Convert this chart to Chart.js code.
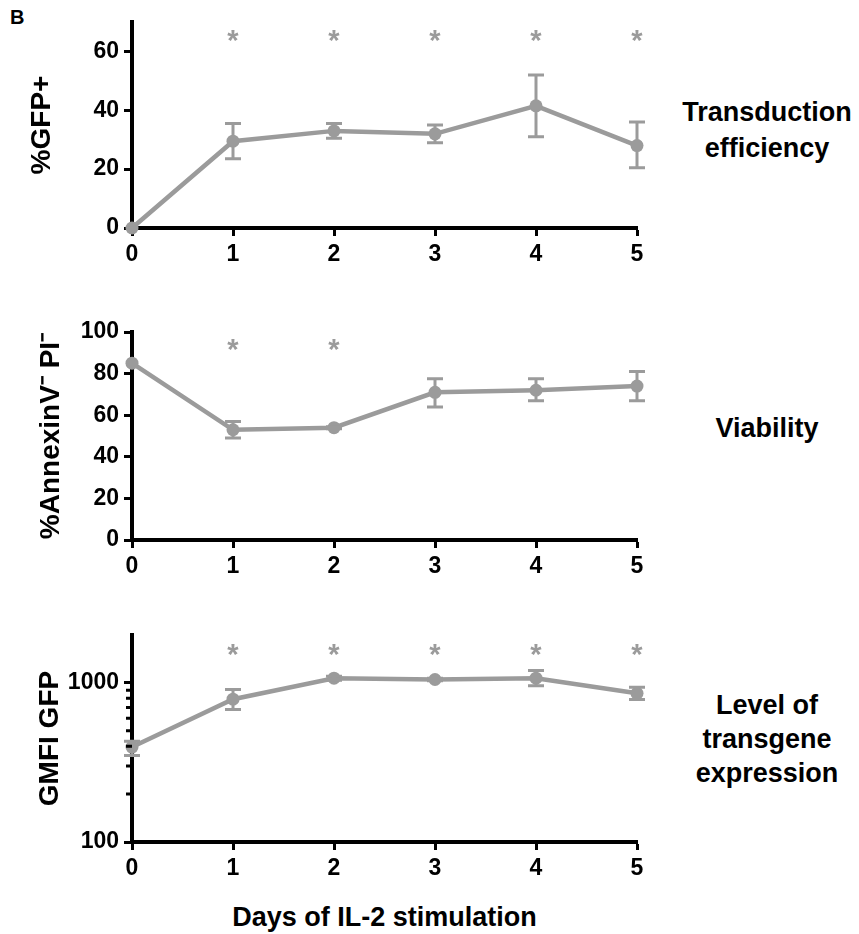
<!DOCTYPE html>
<html>
<head>
<meta charset="utf-8">
<script src="https://cdn.jsdelivr.net/npm/chart.js@4.4.1/dist/chart.umd.min.js"></script>
<style>
  body { margin: 0; background: #fff; }
  #wrap { position: relative; width: 859px; height: 934px; font-family: "Liberation Sans", Arial, sans-serif; font-weight: bold; color: #000; }
  #wrap canvas { position: absolute; left: 0; }
  .lab { position: absolute; left: 667px; width: 200px; text-align: center; font-size: 27px; line-height: 36px; }
</style>
</head>
<body>
<div id="wrap">
  <div style="position:absolute;left:10px;top:6px;font-size:20px;line-height:22px;">B</div>
  <canvas id="gfpChart" width="660" height="280" style="top:0px"></canvas>
  <canvas id="viaChart" width="660" height="290" style="top:300px"></canvas>
  <canvas id="gmfiChart" width="660" height="290" style="top:600px"></canvas>
  <div class="lab" style="top:94px">Transduction<br>efficiency</div>
  <div class="lab" style="top:410px">Viability</div>
  <div class="lab" style="top:688px;line-height:34px">Level of<br>transgene<br>expression</div>
  <div style="position:absolute;left:132px;width:505px;top:900px;line-height:34px;text-align:center;font-size:27px;">Days of IL-2 stimulation</div>
</div>
<script>
const days = [0, 1, 2, 3, 4, 5];

// %GFP+
const gfpMean = [0, 29.5, 33, 32, 41.5, 28];
const gfpLow = [0, 23.5, 30.5, 29, 31, 20.5];
const gfpHigh = [0, 35.5, 35.5, 35, 52, 36];
const gfpStars = [1, 2, 3, 4, 5];

// %AnnexinV- PI-
const viaMean = [85, 53, 54, 71, 72, 74];
const viaLow = [85, 49, 53.5, 64, 67, 67];
const viaHigh = [85, 57, 54.5, 77.5, 77.5, 81];
const viaStars = [1, 2];

// GMFI GFP (log scale)
const gmfiMean = [395, 790, 1070, 1050, 1070, 860];
const gmfiLow = [350, 680, 1040, 1030, 960, 786];
const gmfiHigh = [430, 910, 1100, 1070, 1195, 940];
const gmfiStars = [1, 2, 3, 4, 5];
const gmfiMajor = [100, 1000];
const gmfiMinor = [200, 300, 400, 500, 600, 700, 800, 900];

const grey = "#9b9b9b";
const fontFam = '"Liberation Sans", Arial, sans-serif';

const errorBars = {
  id: "errorBars",
  afterDatasetsDraw(chart, args, opts) {
    const { ctx, scales: { x, y } } = chart;
    ctx.save();
    ctx.strokeStyle = grey;
    ctx.lineWidth = 3;
    opts.low.forEach((lo, i) => {
      const px = x.getPixelForValue(days[i]);
      const y1 = y.getPixelForValue(lo);
      const y2 = y.getPixelForValue(opts.high[i]);
      if (Math.abs(y1 - y2) < 1) return;
      ctx.beginPath();
      ctx.moveTo(px, y1); ctx.lineTo(px, y2);
      ctx.moveTo(px - 8, y1); ctx.lineTo(px + 8, y1);
      ctx.moveTo(px - 8, y2); ctx.lineTo(px + 8, y2);
      ctx.stroke();
    });
    ctx.restore();
  }
};

const stars = {
  id: "stars",
  afterDatasetsDraw(chart, args, opts) {
    const { ctx, scales: { x, y } } = chart;
    ctx.save();
    ctx.fillStyle = grey;
    ctx.font = "bold 29px " + fontFam;
    ctx.textAlign = "center";
    ctx.textBaseline = "alphabetic";
    opts.days.forEach(d => {
      ctx.fillText("*", x.getPixelForValue(d), y.getPixelForValue(opts.level) + 16);
    });
    ctx.restore();
  }
};

const minorTicks = {
  id: "minorTicks",
  afterDraw(chart, args, opts) {
    if (!opts.values) return;
    const { ctx, chartArea, scales: { y } } = chart;
    ctx.save();
    ctx.strokeStyle = "#000";
    ctx.lineWidth = 3;
    ctx.beginPath();
    opts.values.forEach(v => {
      const py = y.getPixelForValue(v);
      ctx.moveTo(chartArea.left - 6, py);
      ctx.lineTo(chartArea.left, py);
    });
    ctx.stroke();
    ctx.restore();
  }
};

function makeChart(id, cfg) {
  return new Chart(document.getElementById(id), {
    type: "line",
    data: {
      datasets: [{
        data: days.map((d, i) => ({ x: d, y: cfg.mean[i] })),
        borderColor: grey,
        backgroundColor: grey,
        borderWidth: 4.5,
        pointRadius: 6.5,
        pointBorderWidth: 0,
        clip: false,
      }],
    },
    plugins: [errorBars, stars, minorTicks],
    options: {
      responsive: false,
      animation: false,
      layout: { padding: { top: cfg.top, right: 23, left: 0, bottom: 0 } },
      plugins: {
        legend: { display: false },
        tooltip: { enabled: false },
        errorBars: { low: cfg.low, high: cfg.high },
        stars: { days: cfg.stars, level: cfg.starLevel },
        minorTicks: { values: cfg.minor },
      },
      scales: {
        x: {
          type: "linear",
          min: 0,
          max: 5,
          ticks: { stepSize: 1, color: "#000", padding: 5, font: { family: fontFam, size: 23, weight: "bold" } },
          grid: { drawOnChartArea: false, tickLength: 8, tickWidth: 3, tickColor: "#000" },
          border: { color: "#000", width: 4 },
          afterFit(scale) { scale.height = cfg.xHeight; },
        },
        y: cfg.y,
      },
    },
  });
}

function yAxis(extra, title, titlePad) {
  return Object.assign({
    ticks: { color: "#000", padding: 5, font: { family: fontFam, size: 23, weight: "bold" } },
    grid: { drawOnChartArea: false, tickLength: 8, tickWidth: 3, tickColor: "#000" },
    border: { color: "#000", width: 4 },
    title: { display: true, text: title, color: "#000", padding: { top: titlePad, bottom: 0 }, font: { family: fontFam, size: 28, weight: "bold" } },
    afterFit(scale) { scale.width = 132; },
  }, extra);
}

function linearY(max, title, titlePad) {
  const y = yAxis({ type: "linear", min: 0, max: max }, title, titlePad);
  y.ticks.stepSize = 20;
  y.ticks.includeBounds = false;
  return y;
}

makeChart("gfpChart", {
  mean: gfpMean, low: gfpLow, high: gfpHigh, stars: gfpStars, starLevel: 66,
  top: 22, xHeight: 52,
  y: linearY(70, "%GFP+", 25),
});
makeChart("viaChart", {
  mean: viaMean, low: viaLow, high: viaHigh, stars: viaStars, starLevel: 94.5,
  top: 32, xHeight: 50,
  y: linearY(100, "%AnnexinV\u207B PI\u207B", 34),
});

const gmfiY = yAxis({ type: "logarithmic", min: 100, max: 2000 }, "GMFI GFP", 33);
gmfiY.ticks.callback = v => (gmfiMajor.includes(v) ? String(v) : "");
gmfiY.grid.tickColor = c => (c.tick && gmfiMajor.includes(c.tick.value) ? "#000" : "rgba(0,0,0,0)");
makeChart("gmfiChart", {
  mean: gmfiMean, low: gmfiLow, high: gmfiHigh, stars: gmfiStars, starLevel: 1650,
  top: 35, xHeight: 48, minor: gmfiMinor,
  y: gmfiY,
});
</script>
</body>
</html>
